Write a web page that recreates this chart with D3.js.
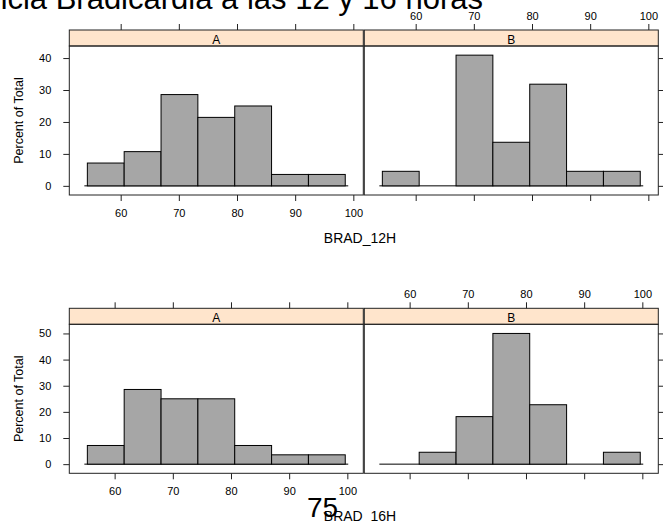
<!DOCTYPE html>
<html>
<head>
<meta charset="utf-8">
<script src="https://cdn.jsdelivr.net/npm/d3@7"></script>
<style>
  body { margin: 0; background: #fff; }
  svg { display: block; font-family: "Liberation Sans", Arial, sans-serif; }
  .axis text { font-size: 11px; fill: #000; }
  .axis line { stroke: #222; }
</style>
</head>
<body>
<div id="chart"></div>
<script>
// panel names (conditioning factor)
var panels = ["A", "B"];

// histogram breaks and percent of total, 12 h
var breaks12 = [54.27, 60.6, 66.94, 73.27, 79.61, 85.94, 92.28, 98.61];
var pctA12 = [7.14, 10.71, 28.57, 21.43, 25.0, 3.57, 3.57];
var pctB12 = [4.55, 0, 40.91, 13.64, 31.82, 4.55, 4.55];

// histogram breaks and percent of total, 16 h
var breaks16 = [55.31, 61.64, 67.98, 74.31, 80.64, 86.98, 93.31, 99.64];
var pctA16 = [7.14, 28.57, 25.0, 25.0, 7.14, 3.57, 3.57];
var pctB16 = [0, 4.55, 18.18, 50.0, 22.73, 0, 4.55];

var xTicks = [60, 70, 80, 90, 100];
var yTicks12 = [0, 10, 20, 30, 40];
var yTicks16 = [0, 10, 20, 30, 40, 50];

var W = 663, H = 521;
var panelLeft = 69.3, panelW = 294, panelGap = 1, panelH = 149, stripH = 16;

var svg = d3.select("#chart").append("svg")
    .attr("width", W)
    .attr("height", H);

// title, partly cut off at the top / left like the original
svg.append("text")
    .attr("x", 483)
    .attr("y", 9)
    .attr("text-anchor", "end")
    .style("font-size", "31px")
    .text("Incidencia Bradicardia a las 12 y 16 horas");

function drawRow(stripTop, breaks, series, yTicks, xlab) {
    var panelTop = stripTop + stripH;
    var panelBottom = panelTop + panelH;

    // lattice style: extend the ranges by 7%
    var bx = d3.extent(breaks), dx = bx[1] - bx[0];
    var x = d3.scaleLinear()
        .domain([bx[0] - 0.07 * dx, bx[1] + 0.07 * dx])
        .range([0, panelW]);
    var ymax = d3.max(series, function(s) { return d3.max(s); });
    var y = d3.scaleLinear()
        .domain([-0.07 * ymax, 1.07 * ymax])
        .range([panelBottom, panelTop]);

    series.forEach(function(vals, i) {
        var left = panelLeft + i * (panelW + panelGap);
        var g = svg.append("g").attr("transform", "translate(" + left + ",0)");

        // strip
        g.append("rect")
            .attr("x", 0).attr("y", stripTop)
            .attr("width", panelW).attr("height", stripH)
            .attr("fill", "#ffe5cc")
            .attr("stroke", "#222");
        g.append("text")
            .attr("x", panelW / 2)
            .attr("y", panelTop - 2)
            .attr("text-anchor", "middle")
            .style("font-size", "12px")
            .text(panels[i]);

        // baseline under the bars
        g.append("line")
            .attr("x1", x(bx[0]) - 3).attr("x2", x(bx[1]) + 3)
            .attr("y1", y(0)).attr("y2", y(0))
            .attr("stroke", "#000");

        // bars
        g.selectAll("rect.bar")
            .data(vals)
            .enter().append("rect")
            .attr("class", "bar")
            .attr("x", function(d, j) { return x(breaks[j]); })
            .attr("width", function(d, j) { return x(breaks[j + 1]) - x(breaks[j]); })
            .attr("y", function(d) { return y(d); })
            .attr("height", function(d) { return y(0) - y(d); })
            .attr("fill", "#a6a6a6")
            .attr("stroke", "#000")
            .attr("stroke-width", 1)
            .style("display", function(d) { return d > 0 ? null : "none"; });

        // panel frame
        g.append("rect")
            .attr("x", 0).attr("y", panelTop)
            .attr("width", panelW).attr("height", panelH)
            .attr("fill", "none")
            .attr("stroke", "#222");

        // x axes: labels at the bottom for A, at the top for B
        var bottom = d3.axisBottom(x).tickValues(xTicks).tickSize(6).tickPadding(8).tickSizeOuter(0);
        var top = d3.axisTop(x).tickValues(xTicks).tickSize(6).tickPadding(4.5).tickSizeOuter(0);
        if (i === 0) top.tickFormat("");
        else bottom.tickFormat("");
        g.append("g").attr("class", "axis")
            .attr("transform", "translate(0," + panelBottom + ")")
            .call(bottom)
            .call(function(a) { a.select(".domain").remove(); });
        g.append("g").attr("class", "axis")
            .attr("transform", "translate(0," + stripTop + ")")
            .call(top)
            .call(function(a) { a.select(".domain").remove(); });

        // y axes
        if (i === 0) {
            g.append("g").attr("class", "axis")
                .call(d3.axisLeft(y).tickValues(yTicks).tickSize(6).tickPadding(12).tickSizeOuter(0))
                .call(function(a) { a.select(".domain").remove(); });
        } else {
            g.append("g").attr("class", "axis")
                .attr("transform", "translate(" + panelW + ",0)")
                .call(d3.axisRight(y).tickValues(yTicks).tickSize(6).tickFormat("").tickSizeOuter(0))
                .call(function(a) { a.select(".domain").remove(); });
        }
    });

    // axis titles
    svg.append("text")
        .attr("transform", "translate(23," + (panelTop + panelH / 2) + ") rotate(-90)")
        .attr("text-anchor", "middle")
        .style("font-size", "12.5px")
        .text("Percent of Total");
    svg.append("text")
        .attr("x", 360)
        .attr("y", panelBottom + 48)
        .attr("text-anchor", "middle")
        .style("font-size", "14px")
        .text(xlab);
}

drawRow(30, breaks12, [pctA12, pctB12], yTicks12, "BRAD_12H");
drawRow(308.3, breaks16, [pctA16, pctB16], yTicks16, "BRAD_16H");

// page number
svg.append("text")
    .attr("x", 322.5)
    .attr("y", 517)
    .attr("text-anchor", "middle")
    .style("font-size", "28px")
    .text("75");
</script>
</body>
</html>
